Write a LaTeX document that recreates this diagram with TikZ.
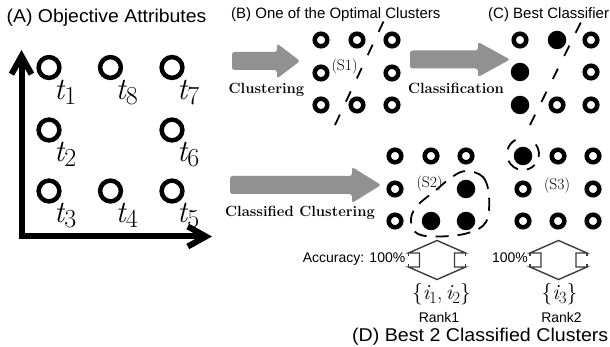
\documentclass[tikz,border=0pt]{standalone}
\usepackage{graphicx}
\usepackage{fontspec}
\setsansfont{Liberation Sans}
\usetikzlibrary{arrows.meta}
\definecolor{arrowgray}{RGB}{145,145,145}
\definecolor{outlinegray}{RGB}{60,60,60}
% italic letter with a lowered, fairly large index
\newcommand\tsub[1]{{\itshape t}\raisebox{-5pt}{\fontsize{26}{26}\selectfont #1}}
\newcommand\isub[1]{{\itshape i}\raisebox{-3.5pt}{\fontsize{17}{17}\selectfont #1}}
% slightly widened heading text
\newcommand\widehead[2]{\scalebox{#1}[1]{#2}}

\tikzset{
  ring/.style={circle, draw=black, line width=4.5pt, minimum size=20.8pt, inner sep=0pt},
  smallring/.style={circle, draw=black, line width=4.5pt, minimum size=12.6pt, inner sep=0pt},
  dot/.style={circle, fill=black, minimum size=18.5pt, inner sep=0pt},
  axis/.style={line width=6pt, line join=miter,
    {Straight Barb[length=18pt,width=20pt]}-{Straight Barb[length=18pt,width=20pt]}},
  tlabel/.style={anchor=base west, inner sep=0pt, font=\fontsize{31}{31}\selectfont},
  title/.style={anchor=base west, inner sep=0pt, font=\sffamily\fontsize{18.5}{20}\selectfont},
  subtitle/.style={anchor=base west, inner sep=0pt, font=\sffamily\fontsize{15}{17}\selectfont},
  steplabel/.style={anchor=base, inner sep=0pt, font=\bfseries\fontsize{14.8}{16}\selectfont},
  clusterlabel/.style={inner sep=0pt, font=\fontsize{15.5}{17}\selectfont},
  smalltext/.style={inner sep=0pt, font=\sffamily\fontsize{14}{16}\selectfont},
  setlabel/.style={anchor=base, inner sep=0pt, font=\fontsize{21.5}{22}\selectfont},
  blockarrow/.style={fill=arrowgray, rounded corners=2.5pt},
  cut/.style={line width=1.8pt, dash pattern=on 11.5pt off 14.2pt},
  hull/.style={line width=1.8pt, dash pattern=on 13pt off 9pt},
  updownline/.style={draw=outlinegray, line width=1.4pt, line join=miter},
  updown/.pic={
    \draw[updownline] (0,-19.5) -- (-28.5,-7) -- (-17.5,-7) -- (-17.5,7) -- (-28.5,7)
      -- (0,19.5) -- (28.5,7) -- (17.5,7) -- (17.5,-7) -- (28.5,-7) -- cycle;
    \draw[updownline] (-28.5,-7) -- (-28.5,-4) (-28.5,7) -- (-28.5,4)
      (28.5,-7) -- (28.5,-4) (28.5,7) -- (28.5,4);
  }
}

\begin{document}
\begin{tikzpicture}[x=1pt,y=-1pt]
  \fill[white] (0,0) rectangle (610,347);
  \useasboundingbox (0,0) rectangle (610,347);

  % ---------- (A) objective attributes ----------
  \node[title] (titleA) at (6.5,23) {\widehead{1.05}{(A) Objective Attributes}};
  \coordinate (ytip) at (21.5,50);
  \coordinate (xtip) at (212,236.5);
  \draw[axis] (ytip) |- (xtip);

  \node[ring] (a1) at (49,67.5) {};
  \node[ring] (a8) at (110.5,67.5) {};
  \node[ring] (a7) at (172,67.5) {};
  \node[ring] (a2) at (49,130) {};
  \node[ring] (a6) at (172,130) {};
  \node[ring] (a3) at (49,191) {};
  \node[ring] (a4) at (110.5,191) {};
  \node[ring] (a5) at (172,191) {};
  \node[tlabel] (t1) at ([shift={(5,32)}]a1.center) {\tsub{1}};
  \node[tlabel] (t8) at ([shift={(5,32)}]a8.center) {\tsub{8}};
  \node[tlabel] (t7) at ([shift={(5,32)}]a7.center) {\tsub{7}};
  \node[tlabel] (t2) at ([shift={(5,32)}]a2.center) {\tsub{2}};
  \node[tlabel] (t6) at ([shift={(5,32)}]a6.center) {\tsub{6}};
  \node[tlabel] (t3) at ([shift={(5,32)}]a3.center) {\tsub{3}};
  \node[tlabel] (t4) at ([shift={(5,32)}]a4.center) {\tsub{4}};
  \node[tlabel] (t5) at ([shift={(5,32)}]a5.center) {\tsub{5}};

  % ---------- (B) one optimal clustering ----------
  \node[subtitle] (titleB) at (231,18.5) {(B) One of the Optimal Clusters};
  \fill[blockarrow] (232,52) -- (277,52) -- (277,43.5) -- (300,61) -- (277,78.5)
    -- (277,70) -- (232,70) -- cycle;
  \node[steplabel] (lab1) at (266.5,93.5) {Clustering};

  \node[smallring] (b11) at (321,40) {};
  \node[smallring] (b12) at (357,40) {};
  \node[smallring] (b13) at (392,40) {};
  \node[smallring] (b21) at (321,73) {};
  \node[smallring] (b23) at (392,73) {};
  \node[smallring] (b31) at (321,105) {};
  \node[smallring] (b32) at (357,105) {};
  \node[smallring] (b33) at (392,105) {};
  \node[clusterlabel] (s1) at (344.5,66.5) {(S1)};
  \coordinate (bcutlo) at (335,125);
  \coordinate (bcuthi) at (383.5,21.5);
  \draw[cut] (bcutlo) -- (bcuthi);

  % ---------- (C) best classifier ----------
  \node[subtitle] (titleC) at (488,18.5) {(C) Best Classifier};
  \fill[blockarrow] (410,50.5) -- (478,50.5) -- (478,42) -- (510,59.5) -- (478,77)
    -- (478,68.5) -- (410,68.5) -- cycle;
  \node[steplabel] (lab2) at (456,93.5) {Classification};

  \node[smallring] (c11) at (520,40) {};
  \node[dot]       (c12) at (557,40) {};
  \node[smallring] (c13) at (591,40) {};
  \node[dot]       (c21) at (520,72) {};
  \node[smallring] (c23) at (591,72) {};
  \node[dot]       (c31) at (520,105) {};
  \node[smallring] (c32) at (557,105) {};
  \node[smallring] (c33) at (591,105) {};
  \coordinate (ccutlo) at (530,125);
  \coordinate (ccuthi) at (582,20);
  \draw[cut] (ccutlo) -- (ccuthi);

  % ---------- (D) classified clustering ----------
  \fill[blockarrow] (230,176) -- (352,176) -- (352,167) -- (381,185) -- (352,203)
    -- (352,194) -- (230,194) -- cycle;
  \node[steplabel] (lab3) at (300,217) {Classified Clustering};

  \node[smallring] (d11) at (395,156) {};
  \node[smallring] (d12) at (431,156) {};
  \node[smallring] (d13) at (466,156) {};
  \node[smallring] (d21) at (395,189) {};
  \node[dot]       (d23) at (466,189) {};
  \node[smallring] (d31) at (395,221) {};
  \node[dot]       (d32) at (431,221) {};
  \node[dot]       (d33) at (466,221) {};
  \node[clusterlabel] (s2) at (429.5,184) {(S2)};
  \draw[hull] plot[smooth cycle, tension=0.6] coordinates {(466,171) (483,177) (489,196)
    (486,222) (468,233) (440,236.5) (418,234) (411,222) (416,207) (436,190) (452,177)};

  \node[dot]       (e11) at (523,156) {};
  \node[smallring] (e12) at (558,156) {};
  \node[smallring] (e13) at (593,156) {};
  \node[smallring] (e21) at (523,189) {};
  \node[smallring] (e23) at (593,189) {};
  \node[smallring] (e31) at (523,221) {};
  \node[smallring] (e32) at (558,221) {};
  \node[smallring] (e33) at (593,221) {};
  \node[clusterlabel] (s3) at (557,185.5) {(S3)};
  \coordinate (s3c) at (523,154);
  \draw[hull] ([shift={(118:16pt)}]s3c) arc[start angle=118,end angle=163,radius=16pt]
    ([shift={(-10:16pt)}]s3c) arc[start angle=-10,end angle=54,radius=16pt]
    ([shift={(205:16pt)}]s3c) arc[start angle=205,end angle=317,radius=16pt];

  \pic (ud1) at (437,260) {updown};
  \pic (ud2) at (558.5,260) {updown};
  \node[smalltext, anchor=base east] (acc1) at (405.5,262.5) {Accuracy: 100\%};
  \node[smalltext, anchor=base east] (acc2) at (528,262.5) {100\%};
  \node[setlabel] (set1) at (441.5,299.5) {\{\isub{1},\,\isub{2}\}};
  \node[setlabel] (set2) at (559.5,299.5) {\{\isub{3}\}};
  \node[smalltext, anchor=base] (rank1) at (439,322) {Rank1};
  \node[smalltext, anchor=base] (rank2) at (561.5,322) {Rank2};
  \node[title] (titleD) at (352,341.5) {\widehead{1.06}{(D) Best 2 Classified Clusters}};
\end{tikzpicture}
\end{document}
